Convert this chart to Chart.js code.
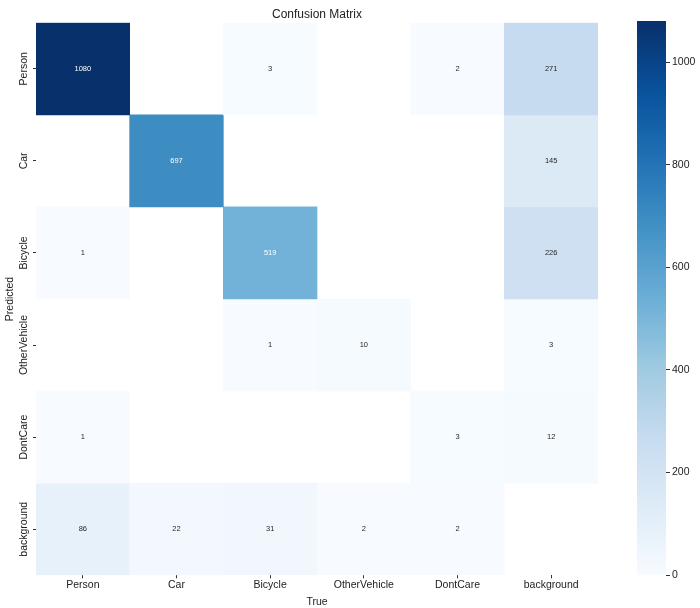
<!DOCTYPE html>
<html>
<head>
<meta charset="utf-8">
<script src="https://cdn.jsdelivr.net/npm/chart.js@4/dist/chart.umd.min.js"></script>
<style>
  body { margin: 0; background: #fff; }
  #wrap { position: relative; width: 700px; height: 608px; }
  #matrix { position: absolute; left: 0; top: 0; }
  #colorbar { position: absolute; left: 620px; top: 0; }
</style>
</head>
<body>
<div id="wrap">
  <canvas id="matrix" width="700" height="608"></canvas>
  <canvas id="colorbar" width="80" height="608"></canvas>
</div>
<script>
// Confusion matrix: one array per predicted class, columns are the true classes
const classes = ['Person', 'Car', 'Bicycle', 'OtherVehicle', 'DontCare', 'background'];

const predPerson = [1080, 0, 3, 0, 2, 271];
const predCar = [0, 697, 0, 0, 0, 145];
const predBicycle = [1, 0, 519, 0, 0, 226];
const predOtherVehicle = [0, 0, 1, 10, 0, 3];
const predDontCare = [1, 0, 0, 0, 3, 12];
const predBackground = [86, 22, 31, 2, 2, 0];

const rows = [predPerson, predCar, predBicycle, predOtherVehicle, predDontCare, predBackground];

const colorbarTicks = [0, 200, 400, 600, 800, 1000];

const FONT = '"Liberation Sans", Arial, Helvetica, sans-serif';
const TEXT = '#222';

// matplotlib "Blues"
const blues = ['#f7fbff', '#deebf7', '#c6dbef', '#9ecae1', '#6baed6', '#4292c6', '#2171b5', '#08519c', '#08306b'];
const vmax = Math.max(...rows.flat());

function hexRgb(h) {
    return [1, 3, 5].map(i => parseInt(h.slice(i, i + 2), 16));
}

function blueRgb(v) {
    const t = Math.min(Math.max(v / vmax, 0), 1) * (blues.length - 1);
    const i = Math.min(Math.floor(t), blues.length - 2);
    const f = t - i;
    const a = hexRgb(blues[i]);
    const b = hexRgb(blues[i + 1]);
    return a.map((c, k) => Math.round(c + (b[k] - c) * f));
}

function blue(v) {
    const [r, g, b] = blueRgb(v);
    return `rgb(${r},${g},${b})`;
}

// same rule seaborn uses to pick the annotation colour
function textColor(v) {
    const lin = blueRgb(v).map(c => {
        c /= 255;
        return c <= 0.03928 ? c / 12.92 : Math.pow((c + 0.055) / 1.055, 2.4);
    });
    const lum = 0.2126 * lin[0] + 0.7152 * lin[1] + 0.0722 * lin[2];
    return lum > 0.408 ? '#262626' : '#ffffff';
}

// Cell numbers + rotated row labels
const cellText = {
    id: 'cellText',
    afterDatasetsDraw(chart) {
        const {ctx, scales: {x, y}} = chart;
        ctx.save();
        ctx.textAlign = 'center';
        ctx.textBaseline = 'middle';
        ctx.font = '7.5px ' + FONT;
        rows.forEach((row, r) => {
            row.forEach((v, c) => {
                if (!v) return;
                ctx.fillStyle = textColor(v);
                ctx.fillText(String(v), x.getPixelForValue(c), y.getPixelForValue(r + 0.5));
            });
        });
        ctx.font = '10.5px ' + FONT;
        ctx.fillStyle = TEXT;
        y.ticks.forEach((t, i) => {
            ctx.save();
            ctx.translate(y.right - 12, y.getPixelForValue(t.value));
            ctx.rotate(-Math.PI / 2);
            ctx.fillText(classes[i], 0, 0);
            ctx.restore();
        });
        ctx.restore();
    }
};

new Chart(document.getElementById('matrix'), {
    type: 'bar',
    data: {
        labels: classes,
        datasets: rows.map((row, r) => ({
            label: classes[r],
            data: row.map(v => v ? [r, r + 1] : null),
            backgroundColor: row.map(v => blue(v)),
            borderWidth: 0,
            grouped: false,
            barPercentage: 1,
            categoryPercentage: 1
        }))
    },
    options: {
        responsive: false,
        animation: false,
        layout: { padding: { left: 0, top: 0, right: 102, bottom: 0 } },
        plugins: {
            legend: { display: false },
            tooltip: { enabled: false },
            title: {
                display: true,
                text: 'Confusion Matrix',
                color: TEXT,
                fullSize: false,
                font: { family: FONT, size: 12, weight: 'normal' },
                padding: { top: 7, bottom: 1.3 }
            }
        },
        scales: {
            x: {
                grid: { offset: false, drawOnChartArea: false, drawTicks: true, tickLength: 3, color: '#333' },
                border: { display: false },
                ticks: { color: TEXT, font: { family: FONT, size: 10.5 }, padding: 1, maxRotation: 0 },
                title: {
                    display: true,
                    text: 'True',
                    color: TEXT,
                    font: { family: FONT, size: 10.5 },
                    padding: { top: 0, bottom: 0 }
                },
                afterFit: axis => { axis.height = 32.7; }
            },
            y: {
                type: 'linear',
                min: 0,
                max: classes.length,
                reverse: true,
                afterBuildTicks: axis => {
                    axis.ticks = classes.map((_, i) => ({ value: i + 0.5 }));
                },
                grid: { drawOnChartArea: false, drawTicks: true, tickLength: 3, color: '#333' },
                border: { display: false },
                ticks: { display: false },
                title: {
                    display: true,
                    text: 'Predicted',
                    color: TEXT,
                    font: { family: FONT, size: 10.5 },
                    padding: { top: 3.7, bottom: 0 }
                },
                afterFit: axis => { axis.width = 36; }
            }
        }
    },
    plugins: [cellText]
});

// Colour bar
function gradientFill(context) {
    const chart = context.chart;
    const y = chart.scales.y;
    if (!chart.chartArea || !y) return blue(vmax / 2);
    const y0 = y.getPixelForValue(0);
    const y1 = y.getPixelForValue(vmax);
    if (!isFinite(y0) || !isFinite(y1)) return blue(vmax / 2);
    const g = chart.ctx.createLinearGradient(0, y0, 0, y1);
    blues.forEach((c, i) => g.addColorStop(i / (blues.length - 1), c));
    return g;
}

new Chart(document.getElementById('colorbar'), {
    type: 'bar',
    data: {
        labels: [''],
        datasets: [{
            data: [[0, vmax]],
            backgroundColor: gradientFill,
            borderWidth: 0,
            barPercentage: 1,
            categoryPercentage: 1
        }]
    },
    options: {
        responsive: false,
        animation: false,
        layout: { padding: { left: 17, top: 21, bottom: 33, right: 0 } },
        plugins: { legend: { display: false }, tooltip: { enabled: false } },
        scales: {
            x: { display: false },
            y: {
                position: 'right',
                min: 0,
                max: vmax,
                afterBuildTicks: axis => {
                    axis.ticks = colorbarTicks.map(v => ({ value: v }));
                },
                grid: { drawOnChartArea: false, drawTicks: true, tickLength: 4, color: '#333' },
                border: { display: false },
                ticks: { color: TEXT, font: { family: FONT, size: 10.5 }, padding: 2, callback: v => String(v) },
                afterFit: axis => { axis.width = 34; }
            }
        }
    }
});
</script>
</body>
</html>
